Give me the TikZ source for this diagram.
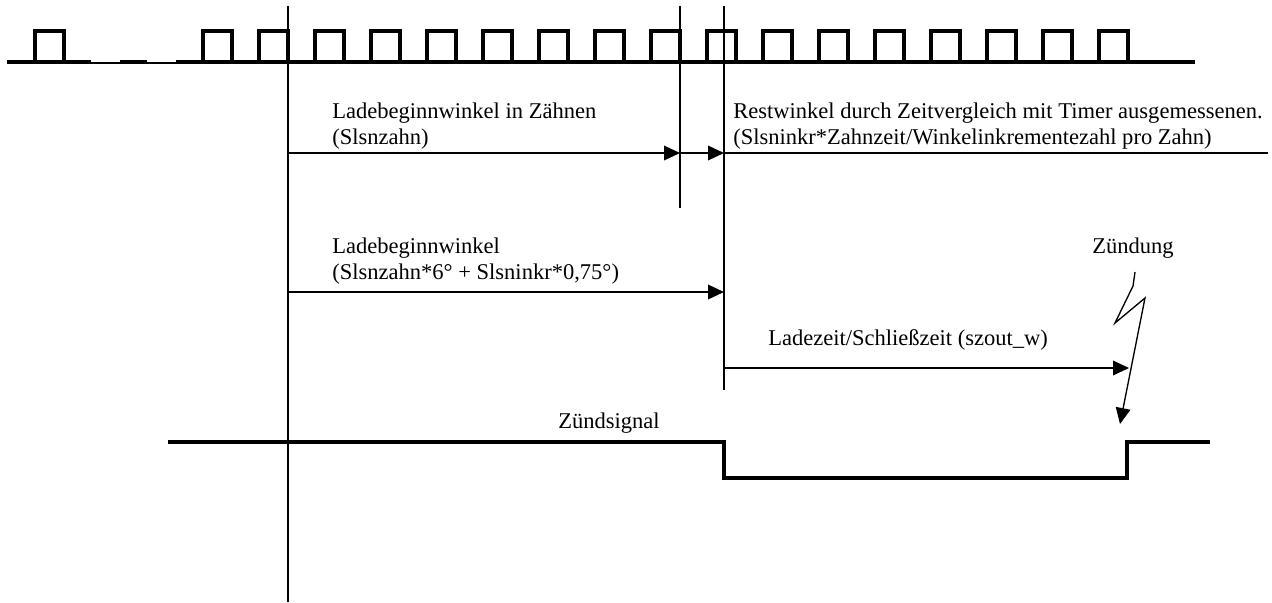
\documentclass[tikz,border=0pt]{standalone}
\usepackage{fontspec}
\setmainfont{Liberation Serif}
\usetikzlibrary{arrows.meta}

\begin{document}
\begin{tikzpicture}[
    x=0.75pt, y=-0.75pt,
    thinline/.style={line width=1pt},
    pulse/.style={line width=3.2pt, line join=miter},
    gapline/.style={line width=2.2pt},
    signal/.style={line width=3.6pt, line join=miter},
    arrow/.style={-{Triangle[length=12pt, width=11pt]}, line width=1pt},
    lbl/.style={font=\fontsize{16.9}{19.5}\selectfont, align=left, inner sep=0pt}
]
\useasboundingbox (0,0) rectangle (1272,603);

%% -- Zahnsignal (Geberrad) ---------------------------------------------------
\draw[pulse] (7,62) -- (91,62) (120,62) -- (147,62) (176,62) -- (1195,62);
\draw[gapline] (91,63) -- (120,63) (147,63) -- (176,63);
\foreach \k in {0,3,4,...,19}
    \draw[pulse] ({35+56*\k},62) -- ++(0,-31) -- ++(29,0) -- ++(0,31);

%% -- Markierungen ------------------------------------------------------------
\coordinate (startTop)  at (288,6);
\coordinate (startBot)  at (288,602);
\coordinate (zahnTop)   at (680,6);
\coordinate (zahnBot)   at (680,208);
\coordinate (ladeTop)   at (724,6);
\coordinate (ladeBot)   at (724,390);
\draw[thinline] (startTop) -- (startBot);
\draw[thinline] (zahnTop) -- (zahnBot);
\draw[thinline] (ladeTop) -- (ladeBot);

%% -- Winkel / Zeiten ---------------------------------------------------------
\coordinate (zahnL)  at (288,153);
\coordinate (zahnR)  at (680,153);
\coordinate (restR)  at (724,153);
\coordinate (restE)  at (1268,153);
\coordinate (winkL)  at (288,292);
\coordinate (winkR)  at (724,292);
\coordinate (zeitL)  at (724,368);
\coordinate (zeitR)  at (1129,368);

\node[lbl, anchor=north west] (zahnTxt) at (332,103) {Ladebeginnwinkel in Zähnen\\(Slsnzahn)};
\node[lbl, anchor=north west] (restTxt) at (733,103) {Restwinkel durch Zeitvergleich mit Timer ausgemessenen.\\(Slsninkr*Zahnzeit/Winkelinkrementezahl pro Zahn)};
\node[lbl, anchor=north west] (winkTxt) at (332,238) {Ladebeginnwinkel\\(Slsnzahn*6° + Slsninkr*0,75°)};
\node[lbl, anchor=base west]  (zeitTxt) at (768,345) {Ladezeit/Schließzeit (szout\_w)};
\node[lbl, anchor=base]       (zuendTxt) at (1133,253) {Zündung};
\node[lbl, anchor=base west]  (sigTxt) at (558,428) {Zündsignal};

\draw[arrow]    (zahnL) -- (zahnR);
\draw[arrow]    (zahnR) -- (restR);
\draw[thinline] (restR) -- (restE);
\draw[arrow]    (winkL) -- (winkR);
\draw[arrow]    (zeitL) -- (zeitR);

%% -- Zündfunke ---------------------------------------------------------------
\coordinate (blitzA) at (1135,272);
\coordinate (blitzB) at (1133,286);
\coordinate (blitzC) at (1115,323);
\coordinate (blitzD) at (1145,298);
\coordinate (blitzE) at (1120,424);
\draw[arrow] (blitzA) -- (blitzB) -- (blitzC) -- (blitzD) -- (blitzE);

%% -- Zündsignal --------------------------------------------------------------
\draw[signal] (168,442) -- (724,442) -- (724,478) -- (1127,478) -- (1127,442) -- (1210,442);

\end{tikzpicture}
\end{document}
